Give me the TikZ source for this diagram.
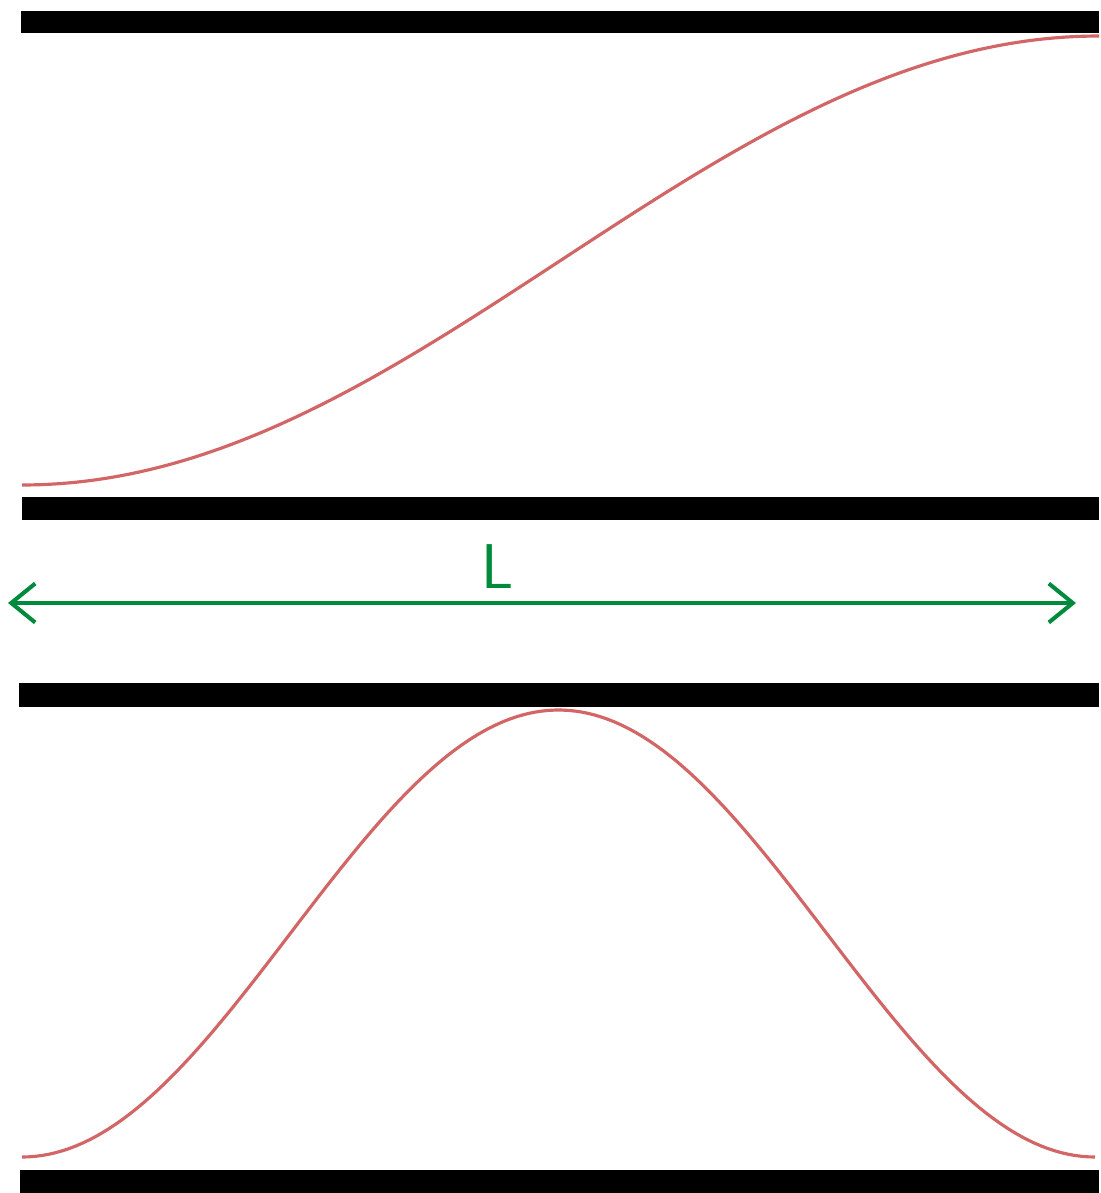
\documentclass[tikz,border=0pt]{standalone}
\usepackage{tikz}
\usetikzlibrary{arrows.meta}
\definecolor{profile}{HTML}{D26666}
\definecolor{span}   {HTML}{008A3C}

\begin{document}
\begin{tikzpicture}[x=0.02cm, y=-0.02cm]
    % --- upper channel: walls and the half-cosine profile ---------------------
    \fill (21, 11) rectangle (1099, 33);
    \fill (22, 497) rectangle (1099, 520);
    \draw[profile, line width=1.8pt, domain=22:1099, samples=120]
      plot (\x, {485 - 224.5*(1-cos((\x-22)/1077*180))});

    % --- length marker ----------------------------------------------------------
    \coordinate (lend) at (8, 603);
    \coordinate (rend) at (1076, 603);
    \draw[span, line width=2.1pt,
          {Straight Barb[length=4.8mm, width=7.8mm, line width=2.3pt]}-{Straight Barb[length=4.8mm, width=7.8mm, line width=2.3pt]}]
      (lend) -- (rend);
    \node[anchor=base, text=span, font=\sffamily\fontsize{36}{36}\selectfont, inner sep=0pt]
      (len) at (498, 588) {L};

    % --- lower channel: walls and the full-cosine bump --------------------------
    \fill (19, 683) rectangle (1099, 707);
    \fill (20, 1170) rectangle (1099, 1193);
    \draw[profile, line width=1.8pt, domain=22:1095, samples=160]
      plot (\x, {1157 - 223.5*(1-cos((\x-22)/1073*360))});

    \useasboundingbox (0, 0) rectangle (1099, 1193);
  \end{tikzpicture}
\end{document}
